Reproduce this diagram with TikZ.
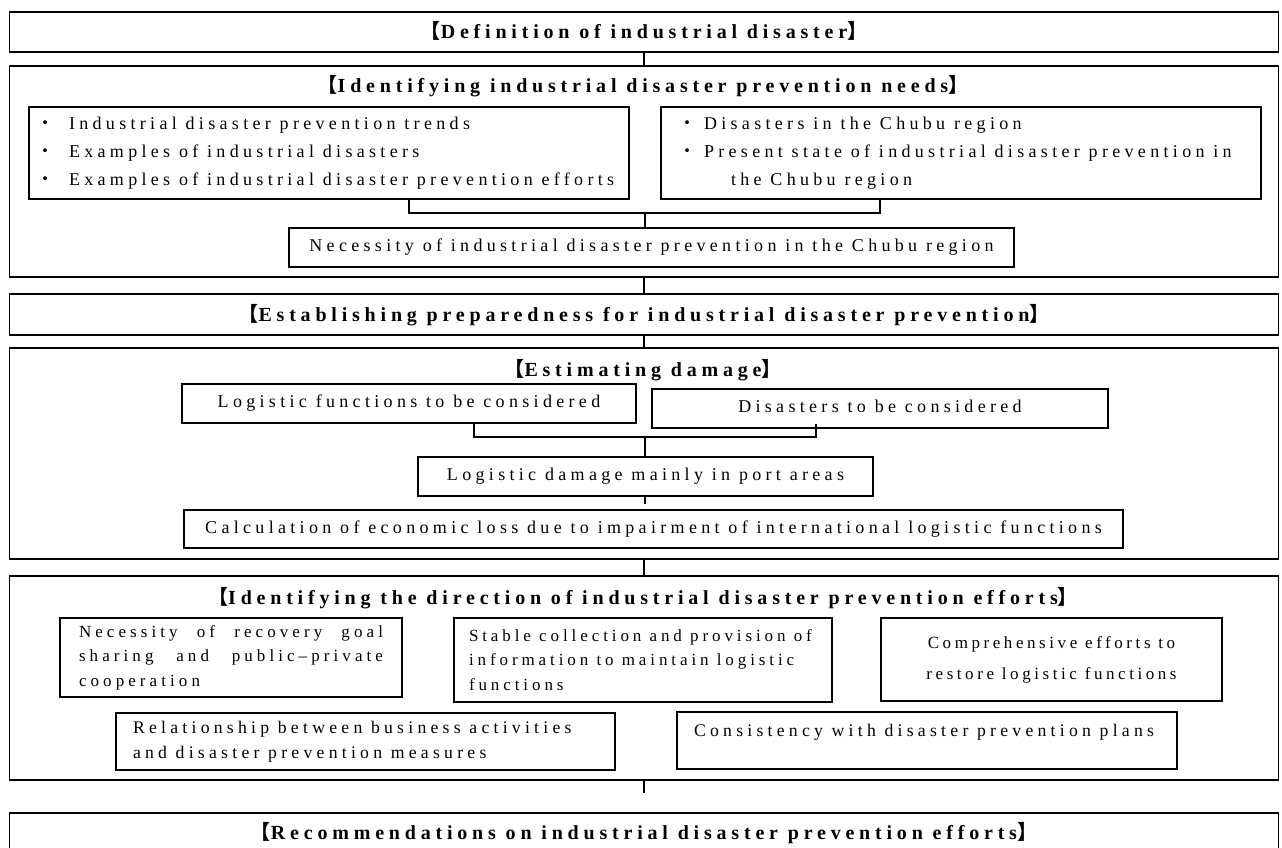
\documentclass[tikz,border=0pt]{standalone}
\usepackage{fontspec}
\setmainfont{Liberation Serif}[LetterSpace=24]
\newfontfamily\cjk{Noto Sans CJK JP}
\usetikzlibrary{calc, positioning}

\newcommand{\lb}{{\cjk 【}}
\newcommand{\rb}{{\cjk 】}}
\newcommand{\dotitem}[1][32.5pt]{\makebox[#1][l]{\cjk ・}}

\tikzset{
  panel/.style={draw, line width=1.5pt, minimum width=1269pt, inner sep=0pt},
  item/.style={draw, line width=1.5pt, inner sep=0pt, font=\fontsize{18}{28}\selectfont,
    execute at begin node={\spaceskip=0pt\xspaceskip=0pt}},
  oneline/.style={text height=12pt, text depth=4pt, font=\fontsize{18}{22}\selectfont},
  headline/.style={font=\fontsize{20}{24}\selectfont\bfseries, inner sep=0pt},
  link/.style={line width=1.5pt}
}

\begin{document}
\begin{tikzpicture}[x=1pt, y=-1pt]
\useasboundingbox (0,0) rectangle (1282,847);
\fill[white] (0,0) rectangle (1282,847);
\clip (0,0) rectangle (1282,847);

% Draw main panels
\node[panel, headline, minimum height=40pt, text height=14pt, text depth=2pt] (pDef) at (644,32) {\lb Definition of industrial disaster\rb};
\node[panel, minimum height=211pt] (pNeeds) at (644,171.5) {};
\node[panel, headline, minimum height=41pt, text height=16pt, text depth=2pt] (pPrep) at (644,314.5) {\lb Establishing preparedness for industrial disaster prevention\rb};
\node[panel, minimum height=211pt] (pDmg) at (644,453.5) {};
\node[panel, minimum height=204pt] (pDir) at (644,678) {};
\node[panel, headline, minimum height=40pt, text height=14pt, text depth=2pt] (pRec) at (644,833) {\lb Recommendations on industrial disaster prevention efforts\rb};

% Panel titles
\node[headline, anchor=base] (needsT) at (643,92) {\lb Identifying industrial disaster prevention needs\rb};
\node[headline, anchor=base] (dmgT) at (643,376) {\lb Estimating damage\rb};
\node[headline, anchor=base] (dirT) at (643,604) {\lb Identifying the direction of industrial disaster prevention efforts\rb};

% Needs
\node[item, align=left, text width=585pt, inner xsep=7.5pt, minimum height=92pt] (nL) at (329,153)
  {\dotitem Industrial disaster prevention trends\\
   \dotitem Examples of industrial disasters\\
   \dotitem Examples of industrial disaster prevention efforts};
\node[item, align=left, text width=565pt, inner xsep=17.5pt, minimum height=92pt] (nR) at (961,153)
  {\dotitem[25.5pt]Disasters in the Chubu region\\
   \dotitem[25.5pt]Present state of industrial disaster prevention in\\
   \hspace*{52.5pt}the Chubu region};
\node[item, oneline, minimum width=725pt, minimum height=39pt] (nNec) at (651.5,247.5)
  {Necessity of industrial disaster prevention in the Chubu region};
\coordinate (nJoin) at (645,213);

% Damage
\node[item, oneline, minimum width=454pt, minimum height=39pt] (dLF) at (409,403.5) {Logistic functions to be considered};
\node[item, oneline, minimum width=456pt, minimum height=39pt] (dDS) at (880,408.5) {Disasters to be considered};
\node[item, oneline, minimum width=455pt, minimum height=39pt] (dLD) at (645.5,476.5) {Logistic damage mainly in port areas};
\node[item, oneline, minimum width=939pt, minimum height=38pt] (dCL) at (653.5,529)
  {Calculation of economic loss due to impairment of international logistic functions};
\coordinate (dJoin) at (645,437);

% Direction
\node[item, font=\fontsize{17}{24.5}\selectfont, align=left, text width=304pt, inner xsep=19pt, minimum height=79pt] (rA) at (231,657.5)
  {\makebox[304pt][s]{Necessity of recovery goal}\\
   \makebox[304pt][s]{sharing and public–private}\\
   cooperation};
\node[item, font=\fontsize{17}{24.5}\selectfont\addfontfeature{LetterSpace=23}, align=left, text width=348pt, inner xsep=15pt, minimum height=84pt] (rB) at (643,660)
  {Stable collection and provision of\\
   information to maintain logistic\\
   functions};
\node[item, font=\fontsize{17}{31}\selectfont\addfontfeature{LetterSpace=21}, align=center, minimum width=341pt, minimum height=83pt] (rC) at (1051.5,659.5)
  {Comprehensive efforts to\\restore logistic functions};
\node[item, font=\fontsize{17.7}{25}\selectfont, align=left, text width=465pt, inner xsep=17pt, minimum height=57pt] (rD) at (365.5,741.5)
  {Relationship between business activities\\
   and disaster prevention measures};
\node[item, font=\fontsize{17.7}{25}\selectfont, text height=12pt, text depth=21pt, align=left, text width=466pt, inner xsep=17pt, minimum height=57pt] (rE) at (927,740.5)
  {Consistency with disaster prevention plans};

% Connectors
\draw[link] (pDef) -- (pNeeds);
\draw[link] (pNeeds) -- (pPrep);
\draw[link] (pPrep) -- (pDmg);
\draw[link] (pDmg) -- (pDir);
\draw[link] (pDir.south) -- ++(0,12);
\draw[link] ([xshift=80pt]nL.south) |- (nJoin) -| ([xshift=-81pt]nR.south);
\draw[link] (nJoin) -- (nJoin |- nNec.north);
\draw[link] ([xshift=65pt]dLF.south) |- (dJoin) -| ([xshift=-64pt, yshift=5pt]dDS.south);
\draw[link] (dJoin) -- (dJoin |- dLD.north);
\draw[link] (dLD.south -| dJoin) -- ++(0,7);
\end{tikzpicture}
\end{document}
